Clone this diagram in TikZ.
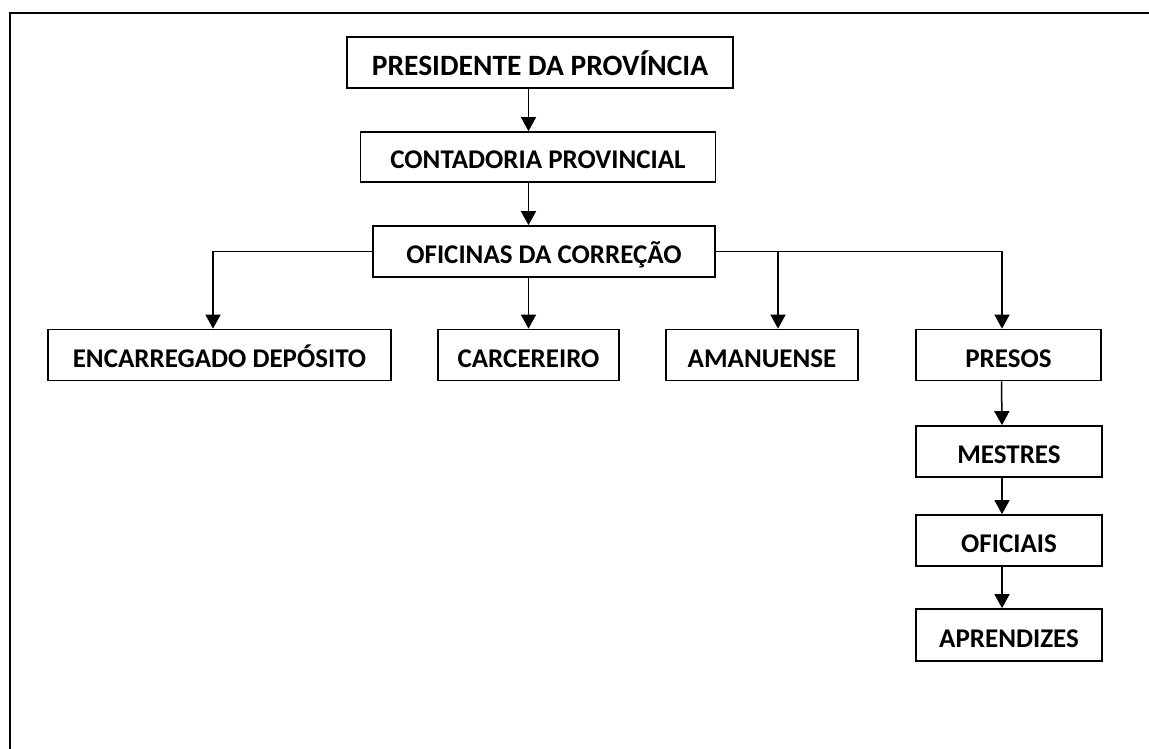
\documentclass[tikz,border=0pt]{standalone}
\usepackage{fontspec}
\setmainfont{Carlito}
\usetikzlibrary{arrows.meta}

\begin{document}
\begin{tikzpicture}[x=1pt, y=-1pt,
    block/.style={rectangle, draw, line width=1.7pt, fill=white, minimum height=51pt, inner sep=0pt, align=center,
                  text height=24pt, text depth=0pt, font=\bfseries\fontsize{27}{30}\selectfont},
    arrow/.style={-{Triangle[length=14pt,width=15pt]}, line width=1.5pt},
    frame/.style={line width=2.8pt}
]
\useasboundingbox (0,0) rectangle (1149,749);

% Frame
\begin{scope}
\clip (0,0) rectangle (1149,749);
\draw[frame] (10,13) rectangle (1200,800);
\end{scope}

% Nodes
\node[block, minimum width=386pt, text height=26pt, font=\bfseries\fontsize{29.5}{32}\selectfont] (president) at (540,62.5) {PRESIDENTE DA PROVÍNCIA};
\node[block, minimum width=355pt, minimum height=50pt] (contadoria) at (538,157) {CONTADORIA PROVINCIAL};
\node[block, minimum width=342pt] (oficinas) at (544,251.5) {OFICINAS DA CORREÇÃO};
\node[block, minimum width=343pt] (encarregado) at (219.5,355) {ENCARREGADO DEPÓSITO};
\node[block, minimum width=181pt] (carcereiro) at (528.5,355) {CARCEREIRO};
\node[block, minimum width=192pt] (amanuense) at (762,355) {AMANUENSE};
\node[block, minimum width=185pt] (presos) at (1008.5,355) {PRESOS};
\node[block, minimum width=186pt] (mestres) at (1009,451.5) {MESTRES};
\node[block, minimum width=186pt] (oficiais) at (1009,540.5) {OFICIAIS};
\node[block, minimum width=186pt, minimum height=52pt] (aprendizes) at (1009,635) {APRENDIZES};

% Arrows
\draw[arrow] (carcereiro.north |- president.south) -- (carcereiro.north |- contadoria.north);
\draw[arrow] (carcereiro.north |- contadoria.south) -- (carcereiro.north |- oficinas.north);
\draw[arrow] (carcereiro.north |- oficinas.south) -- (carcereiro.north);
\draw[arrow] (oficinas.west) -| ([xshift=-6.5pt]encarregado.north);
\draw[arrow] (oficinas.east) -| ([xshift=-6.5pt]presos.north);
\draw[arrow] ([xshift=16pt]amanuense.north |- oficinas.east) -- ([xshift=16pt]amanuense.north);
\draw[arrow] ([xshift=-7pt]presos.south) -- ([xshift=-7pt]mestres.north);
\draw[arrow] ([xshift=-7pt]mestres.south) -- ([xshift=-7pt]oficiais.north);
\draw[arrow] ([xshift=-7pt]oficiais.south) -- ([xshift=-7pt]aprendizes.north);

\end{tikzpicture}
\end{document}
